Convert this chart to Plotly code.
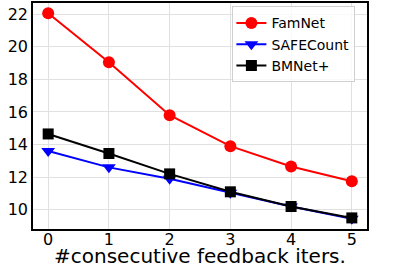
import plotly.graph_objects as go

iters = [0, 1, 2, 3, 4, 5]
famnet = [22.05, 19.05, 15.8, 13.9, 12.65, 11.75]
safecount = [13.6, 12.6, 11.9, 11.05, 10.2, 9.45]
bmnet = [14.65, 13.45, 12.2, 11.1, 10.2, 9.5]
x_label = "#consecutive feedback iters."

fig = go.Figure()
fig.add_trace(go.Scatter(x=iters, y=famnet, name="FamNet", mode="lines+markers",
                         line=dict(color="red", width=2),
                         marker=dict(symbol="circle", size=12, color="red")))
fig.add_trace(go.Scatter(x=iters, y=safecount, name="SAFECount", mode="lines+markers",
                         line=dict(color="blue", width=2),
                         marker=dict(symbol="triangle-down", size=12, color="blue")))
fig.add_trace(go.Scatter(x=iters, y=bmnet, name="BMNet+", mode="lines+markers",
                         line=dict(color="black", width=2),
                         marker=dict(symbol="square", size=11, color="black")))

fig.update_layout(
    width=399, height=266,
    margin=dict(l=33, r=32, t=3, b=37),
    plot_bgcolor="white", paper_bgcolor="white",
    font=dict(family="DejaVu Sans", color="black"),
    legend=dict(x=0.597, y=0.985, xanchor="left", yanchor="top",
                bgcolor="rgba(255,255,255,0.8)", bordercolor="#d0d0d0", borderwidth=1,
                font=dict(size=14), tracegroupgap=0, itemwidth=30,
                indentation=-2),
    showlegend=True,
    annotations=[dict(text=x_label, xref="paper", yref="paper", x=0.5, y=0,
                      xanchor="center", yanchor="middle", yshift=-27, showarrow=False,
                      font=dict(size=20))],
)
fig.update_xaxes(range=[-0.25, 5.25], tickvals=iters, ticks="", ticklabelstandoff=-5,
                 tickfont=dict(size=16), showgrid=True, gridcolor="#e0e0e0",
                 showline=True, linecolor="black", linewidth=1.5, mirror=True,
                 zeroline=False, automargin=False)
fig.update_yaxes(range=[8.82, 22.68], tickvals=[10, 12, 14, 16, 18, 20, 22], ticks="",
                 tickfont=dict(size=16), showgrid=True, gridcolor="#e0e0e0",
                 showline=True, linecolor="black", linewidth=1.5, mirror=True,
                 zeroline=False, automargin=False)

fig.write_html("out.html", post_script="document.body.style.margin='0';",
               config={"displayModeBar": False})
